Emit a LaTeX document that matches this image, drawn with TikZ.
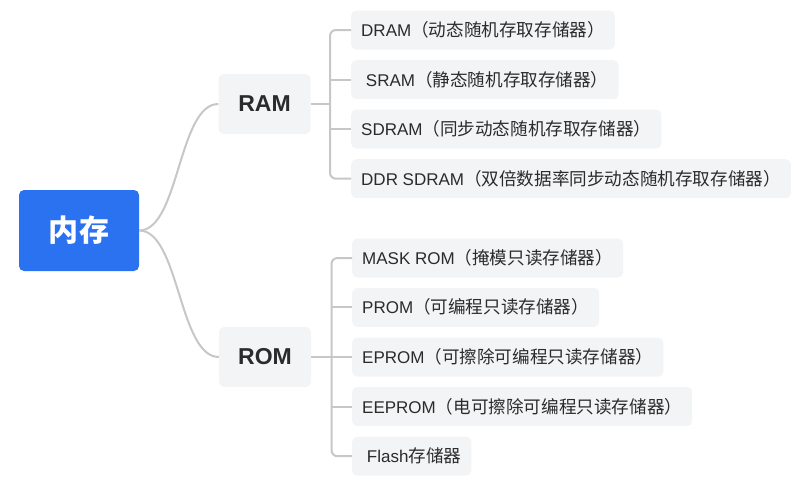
\documentclass[tikz,border=0pt]{standalone}
\usepackage{fontspec}
\setmainfont{Liberation Sans}
\newfontfamily\cjk{Noto Sans CJK SC}[Scale=1.035]
\definecolor{rootblue}{HTML}{2B72F1}
\definecolor{boxgray}{HTML}{F3F4F6}
\definecolor{linegray}{HTML}{C7C7C7}
\definecolor{txt}{HTML}{2B2B2B}
\begin{document}
\begin{tikzpicture}[x=1pt,y=-1pt,
 rootbox/.style={fill=rootblue, rounded corners=5pt, minimum width=120pt, minimum height=81pt, text=white, font=\cjk\bfseries\fontsize{29}{35}\selectfont, inner sep=0pt},
 midbox/.style={fill=boxgray, rounded corners=5pt, minimum width=92pt, minimum height=60pt, font=\bfseries\fontsize{23}{27}\selectfont, text=txt, inner sep=0pt},
 leafbox/.style={fill=boxgray, rounded corners=5pt, minimum height=39pt, inner xsep=10pt, inner ysep=0pt, font=\fontsize{17}{20}\selectfont, text=txt, anchor=west},
 conn/.style={draw=linegray, line width=2pt},
 endconn/.style={conn, rounded corners=6pt},
]
\useasboundingbox (0,0) rectangle (802,480);
\node[rootbox] (root) at (79,230.5) {内存};
\node[midbox] (ram) at (264.5,104) {RAM};
\node[midbox] (rom) at (265,357) {ROM};
% RAM children
\node[leafbox] (dram) at (351,30) {DRAM{\cjk（动态随机存取存储器）}};
\node[leafbox] (sram) at (351,79.7) {\ SRAM{\cjk（静态随机存取存储器）}};
\node[leafbox] (sdram) at (351,129) {SDRAM{\cjk（同步动态随机存取存储器）}};
\node[leafbox] (ddr) at (351,178.7) {DDR SDRAM{\cjk（双倍数据率同步动态随机存取存储器）}};
% ROM children
\node[leafbox] (mask) at (352,258) {MASK ROM{\cjk（掩模只读存储器）}};
\node[leafbox] (prom) at (352,307.3) {PROM{\cjk（可编程只读存储器）}};
\node[leafbox] (eprom) at (352,357) {EPROM{\cjk（可擦除可编程只读存储器）}};
\node[leafbox] (eeprom) at (352,406.5) {EEPROM{\cjk（电可擦除可编程只读存储器）}};
\node[leafbox] (flash) at (352,456.2) {\ Flash{\cjk 存储器}};
% root connectors
\draw[conn] (root.east) .. controls +(40,0) and +(-40,0) .. (ram.west);
\draw[conn] (root.east) .. controls +(40,0) and +(-40,0) .. (rom.west);
% RAM branch
\coordinate (ramj) at (330,104);
\draw[conn] (ram.east) -- (ramj);
\draw[endconn] (ramj) |- (dram.west);
\draw[endconn] (ramj) |- (ddr.west);
\draw[conn] (ramj |- sram.west) -- (sram.west);
\draw[conn] (ramj |- sdram.west) -- (sdram.west);
% ROM branch
\coordinate (romj) at (331.5,357);
\draw[conn] (rom.east) -- (romj);
\draw[endconn] (romj) |- (mask.west);
\draw[endconn] (romj) |- (flash.west);
\draw[conn] (romj |- prom.west) -- (prom.west);
\draw[conn] (romj) -- (eprom.west);
\draw[conn] (romj |- eeprom.west) -- (eeprom.west);
\end{tikzpicture}
\end{document}
